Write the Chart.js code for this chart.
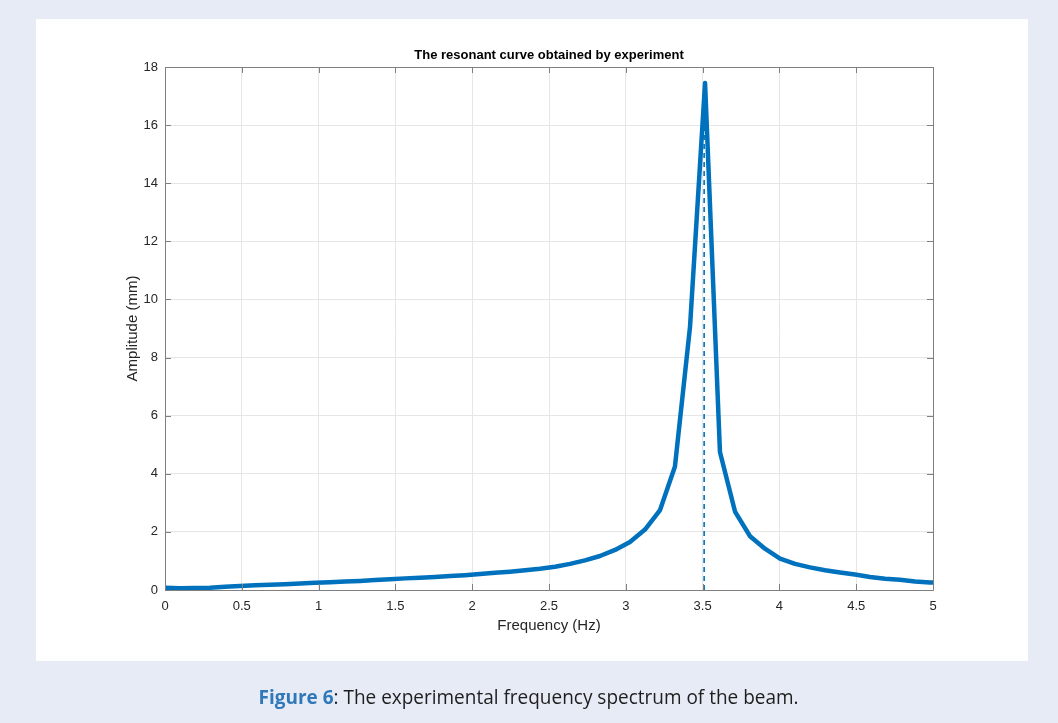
<!DOCTYPE html>
<html>
<head>
<meta charset="utf-8">
<script src="https://cdn.jsdelivr.net/npm/chart.js@4/dist/chart.umd.min.js"></script>
<style>
  html, body { margin: 0; padding: 0; }
  body { width: 1058px; height: 723px; background: #e7ebf6; position: relative; overflow: hidden; }
  #panel { position: absolute; left: 36px; top: 19px; width: 992px; height: 642px; background: #ffffff; }
  #wrap { position: absolute; left: 0; top: 0; width: 1058px; height: 723px; }
  #caption { position: absolute; left: 0; top: 683px; width: 1058px; text-align: center; white-space: nowrap;
             font-family: "Open Sans", sans-serif; font-size: 20px; color: #1e1e1e; line-height: 28px; }
  #capinner { display: inline-block; transform-origin: center center; }
  #caption b { color: #2f78b9; font-weight: 700; }
</style>
</head>
<body>
<div id="panel"></div>
<div id="wrap"><canvas id="c" width="1058" height="723"></canvas></div>
<div id="caption"><span id="capinner"><b>Figure 6</b>: The experimental frequency spectrum of the beam.</span></div>
<script>
// ---- data ----
const chartTitle = "The resonant curve obtained by experiment";
const xTitle = "Frequency (Hz)";
const yTitle = "Amplitude (mm)";
const frequencies = [0.000, 0.098, 0.195, 0.293, 0.391, 0.488, 0.586, 0.684, 0.781, 0.879,
  0.977, 1.074, 1.172, 1.270, 1.367, 1.465, 1.563, 1.660, 1.758, 1.855,
  1.953, 2.051, 2.148, 2.246, 2.344, 2.441, 2.539, 2.637, 2.734, 2.832,
  2.930, 3.027, 3.125, 3.223, 3.320, 3.418, 3.516, 3.613, 3.711, 3.809,
  3.906, 4.004, 4.102, 4.199, 4.297, 4.395, 4.492, 4.590, 4.688, 4.785,
  4.883, 4.980, 5.078];
const amplitudes = [0.08, 0.06, 0.07, 0.08, 0.11, 0.14, 0.16, 0.18, 0.20, 0.22,
  0.25, 0.27, 0.29, 0.31, 0.34, 0.37, 0.40, 0.42, 0.45, 0.48,
  0.51, 0.55, 0.59, 0.63, 0.68, 0.73, 0.80, 0.90, 1.02, 1.17,
  1.38, 1.65, 2.08, 2.75, 4.25, 9.05, 17.45, 4.75, 2.70, 1.85,
  1.42, 1.08, 0.90, 0.78, 0.68, 0.60, 0.53, 0.45, 0.39, 0.35,
  0.29, 0.26, 0.24];
const peakFrequency = [3.51, 3.51];
const peakLine = [0, 17.4];
const xTicks = [0, 0.5, 1, 1.5, 2, 2.5, 3, 3.5, 4, 4.5, 5];
const xTickLabels = ["0", "0.5", "1", "1.5", "2", "2.5", "3", "3.5", "4", "4.5", "5"];
const yTicks = [0, 2, 4, 6, 8, 10, 12, 14, 16, 18];
const yTickLabels = ["0", "2", "4", "6", "8", "10", "12", "14", "16", "18"];

const curve = frequencies.map((f, i) => ({ x: f, y: amplitudes[i] }));
const dashed = peakFrequency.map((f, i) => ({ x: f, y: peakLine[i] }));

const axisColor = '#7f7f7f';
const textColor = '#262626';
const FONT = 'Liberation Sans, Arial, sans-serif';

const framePlugin = {
  id: 'frame',
  afterDraw(chart) {
    const { ctx, chartArea: a, scales } = chart;
    ctx.save();
    ctx.strokeStyle = axisColor;
    ctx.lineWidth = 1;
    ctx.beginPath();
    ctx.rect(Math.round(a.left) + 0.5, Math.round(a.top) + 0.5, Math.round(a.right - a.left), Math.round(a.bottom - a.top));
    ctx.stroke();
    const tl = 6;
    ctx.beginPath();
    xTicks.forEach(v => {
      const px = Math.round(scales.x.getPixelForValue(v)) + 0.5;
      ctx.moveTo(px, a.bottom); ctx.lineTo(px, a.bottom - tl);
      ctx.moveTo(px, a.top); ctx.lineTo(px, a.top + tl);
    });
    yTicks.forEach(v => {
      const py = Math.round(scales.y.getPixelForValue(v)) + 0.5;
      ctx.moveTo(a.left, py); ctx.lineTo(a.left + tl, py);
      ctx.moveTo(a.right, py); ctx.lineTo(a.right - tl, py);
    });
    ctx.stroke();
    ctx.restore();
  }
};

new Chart(document.getElementById('c'), {
  type: 'line',
  data: {
    datasets: [
      { data: dashed, borderColor: '#0072bd', borderWidth: 1.6, borderDash: [5, 4], pointRadius: 0, tension: 0, order: 0 },
      { data: curve, borderColor: '#0072bd', borderWidth: 4.5, pointRadius: 0, tension: 0, order: 1, borderJoinStyle: 'round', borderCapStyle: 'round' }
    ]
  },
  options: {
    responsive: false,
    animation: false,
    devicePixelRatio: 1,
    layout: { padding: { left: 100, right: 125, top: 47.4, bottom: 88 } },
    plugins: {
      legend: { display: false },
      tooltip: { enabled: false },
      title: {
        display: true, text: chartTitle, fullSize: false, color: '#000000',
        font: { family: FONT, size: 13, weight: 'bold', lineHeight: 1.2 },
        padding: { top: 0, bottom: 4 }
      }
    },
    scales: {
      x: {
        type: 'linear', min: 0, max: 5,
        afterFit(s) { s.height = 45; },
        afterBuildTicks(s) { s.ticks = xTicks.map(v => ({ value: v })); },
        grid: { color: '#e6e6e6', drawTicks: false },
        border: { display: false },
        ticks: { color: textColor, padding: 9, maxRotation: 0, font: { family: FONT, size: 13 },
                 callback: (v) => xTickLabels[xTicks.indexOf(v)] },
        title: { display: true, text: xTitle, color: textColor, padding: { top: 0, bottom: 0 }, font: { family: FONT, size: 15, lineHeight: 1.2 } }
      },
      y: {
        type: 'linear', min: 0, max: 18,
        afterFit(s) { s.width = 65; },
        afterBuildTicks(s) { s.ticks = yTicks.map(v => ({ value: v })); },
        grid: { color: '#e6e6e6', drawTicks: false },
        border: { display: false },
        ticks: { color: textColor, padding: 7, font: { family: FONT, size: 13 },
                 callback: (v) => yTickLabels[yTicks.indexOf(v)] },
        title: { display: true, text: yTitle, color: textColor, padding: { top: 24, bottom: 0 }, font: { family: FONT, size: 15, lineHeight: 1.2 } }
      }
    }
  },
  plugins: [framePlugin]
});

// fit caption width to reference (~540px)
const cap = document.getElementById('capinner');
const w = cap.getBoundingClientRect().width;
cap.style.transform = 'scaleX(' + (540 / w).toFixed(3) + ')';
</script>
</body>
</html>
